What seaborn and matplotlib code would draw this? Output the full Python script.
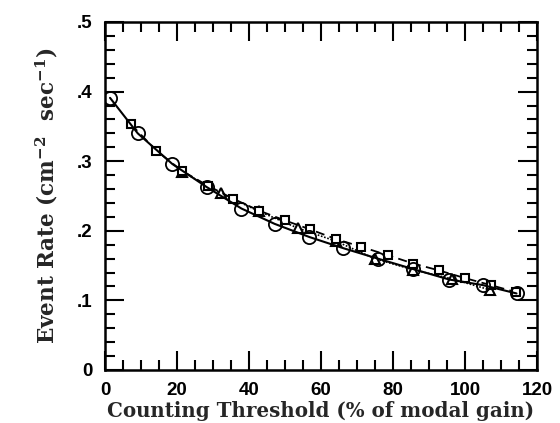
import matplotlib
matplotlib.use("Agg")
import matplotlib.pyplot as plt
import seaborn as sns
import pandas as pd
from matplotlib.ticker import MultipleLocator, FixedLocator, FixedFormatter

# Data
circle_x = [1.4, 9.1, 18.7, 28.2, 37.9, 47.1, 56.8, 66.2, 75.8, 85.6, 95.6, 104.9, 114.3]
circle_y = [0.391, 0.340, 0.296, 0.263, 0.232, 0.210, 0.191, 0.175, 0.160, 0.145, 0.130, 0.122, 0.110]

square_x = [7.2, 14.3, 21.4, 28.5, 35.6, 42.8, 49.9, 57.0, 64.2, 71.2, 78.5, 85.6, 92.8, 100.0, 107.1, 114.1]
square_y = [0.353, 0.315, 0.286, 0.265, 0.246, 0.229, 0.215, 0.202, 0.188, 0.177, 0.165, 0.153, 0.143, 0.132, 0.122, 0.112]

tri_x = [21.4, 32.1, 42.8, 53.5, 64.2, 74.9, 85.6, 96.3, 107.0]
tri_y = [0.285, 0.254, 0.228, 0.204, 0.185, 0.160, 0.144, 0.131, 0.115]

y_ticks = [0, 0.1, 0.2, 0.3, 0.4, 0.5]
y_tick_labels = ["0", ".1", ".2", ".3", ".4", ".5"]
x_ticks = [0, 20, 40, 60, 80, 100, 120]
x_tick_labels = ["0", "20", "40", "60", "80", "100", "120"]

sns.set_style("ticks")
plt.rcParams["mathtext.fontset"] = "custom"
plt.rcParams["mathtext.rm"] = "DejaVu Serif:bold"
plt.rcParams["mathtext.bf"] = "DejaVu Serif:bold"

fig = plt.figure(figsize=(5.6, 4.23), dpi=100)
ax = fig.add_axes([0.1875, 0.1253, 0.7715, 0.8227])

df_c = pd.DataFrame({"x": circle_x, "y": circle_y})
df_s = pd.DataFrame({"x": square_x, "y": square_y})
df_t = pd.DataFrame({"x": tri_x, "y": tri_y})

sns.lineplot(data=df_t, x="x", y="y", ax=ax, color="black", lw=1.2, linestyle=(0, (1, 1)),
             marker="^", markersize=7, markerfacecolor="white", markeredgecolor="black",
             markeredgewidth=1.5)
sns.lineplot(data=df_s, x="x", y="y", ax=ax, color="black", lw=1.3, linestyle=(0, (5, 3)),
             marker="s", markersize=6, markerfacecolor="white", markeredgecolor="black",
             markeredgewidth=1.5)
sns.lineplot(data=df_c, x="x", y="y", ax=ax, color="black", lw=1.5, linestyle="-",
             marker="o", markersize=9.5, markerfacecolor="none", markeredgecolor="black",
             markeredgewidth=1.3)

ax.set_xlim(0, 120)
ax.set_ylim(0, 0.5)

ax.xaxis.set_major_locator(FixedLocator(x_ticks))
ax.xaxis.set_major_formatter(FixedFormatter(x_tick_labels))
ax.xaxis.set_minor_locator(MultipleLocator(5))
ax.yaxis.set_major_locator(FixedLocator(y_ticks))
ax.yaxis.set_major_formatter(FixedFormatter(y_tick_labels))
ax.yaxis.set_minor_locator(MultipleLocator(0.02))

ax.tick_params(which="both", direction="in", top=True, right=True, colors="black")
ax.tick_params(which="major", length=14, width=1.5, pad=9)
ax.tick_params(which="minor", length=7, width=1.5)

for lab in ax.get_xticklabels() + ax.get_yticklabels():
    lab.set_fontfamily("Liberation Sans")
    lab.set_fontweight("bold")
    lab.set_fontsize(13.5)

for sp in ax.spines.values():
    sp.set_visible(True)
    sp.set_linewidth(1.8)
    sp.set_color("black")

ax.set_xlabel("Counting Threshold (% of modal gain)", fontfamily="DejaVu Serif",
              fontweight="bold", fontsize=14.3, labelpad=1)
ax.set_ylabel(r"Event Rate (cm$^{\mathbf{-2}}$  sec$^{\mathbf{-1}}$)", fontfamily="DejaVu Serif",
              fontweight="bold", fontsize=15.5, labelpad=12)

fig.savefig("out.png", dpi=100)
